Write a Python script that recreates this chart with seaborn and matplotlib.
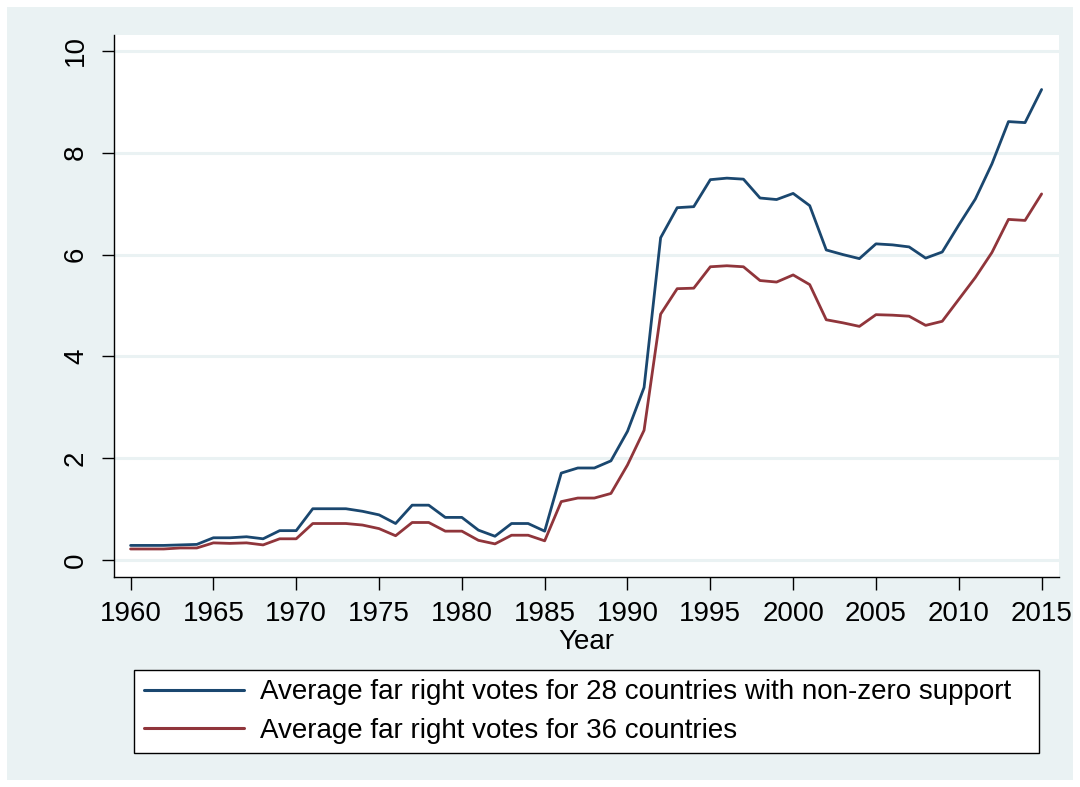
import numpy as np
import pandas as pd
import matplotlib.pyplot as plt
from matplotlib.patches import Rectangle
import seaborn as sns

years = list(range(1960, 2016))

nonzero_28 = [
    0.29, 0.29, 0.29, 0.30, 0.31, 0.44, 0.44, 0.46, 0.42, 0.58,
    0.58, 1.01, 1.01, 1.01, 0.96, 0.89, 0.72, 1.08, 1.08, 0.84,
    0.84, 0.59, 0.47, 0.72, 0.72, 0.57, 1.71, 1.81, 1.81, 1.95,
    2.53, 3.39, 6.33, 6.92, 6.94, 7.47, 7.50, 7.48, 7.11, 7.08,
    7.20, 6.96, 6.09, 6.00, 5.92, 6.21, 6.19, 6.15, 5.93, 6.05,
    6.58, 7.09, 7.78, 8.61, 8.59, 9.24,
]
all_36 = [
    0.22, 0.22, 0.22, 0.24, 0.24, 0.34, 0.33, 0.34, 0.30, 0.42,
    0.42, 0.72, 0.72, 0.72, 0.69, 0.62, 0.48, 0.74, 0.74, 0.57,
    0.57, 0.39, 0.32, 0.49, 0.49, 0.38, 1.15, 1.22, 1.22, 1.31,
    1.87, 2.55, 4.83, 5.33, 5.34, 5.76, 5.78, 5.76, 5.49, 5.46,
    5.60, 5.41, 4.72, 4.66, 4.59, 4.82, 4.81, 4.79, 4.61, 4.69,
    5.12, 5.55, 6.04, 6.69, 6.67, 7.19,
]

label_28 = 'Average far right votes for 28 countries with non-zero support'
label_36 = 'Average far right votes for 36 countries'

df = pd.DataFrame({
    'Year': years * 2,
    'votes': nonzero_28 + all_36,
    'serie': [label_28] * len(years) + [label_36] * len(years),
})

sns.set_style('white')
plt.rcParams['font.family'] = ['Liberation Sans', 'DejaVu Sans']
plt.rcParams['text.color'] = 'black'
plt.rcParams['axes.labelcolor'] = 'black'
plt.rcParams['xtick.color'] = 'black'
plt.rcParams['ytick.color'] = 'black'

bg = '#EAF2F3'
W, H = 1080, 787
fig = plt.figure(figsize=(W / 100, H / 100), dpi=100, facecolor='white')
fig.patches.append(Rectangle((7 / W, 1 - 780 / H), 1066 / W, 773 / H,
                             transform=fig.transFigure, facecolor=bg,
                             edgecolor='none', zorder=-10))

ax = fig.add_axes([114 / W, 1 - 577 / H, (1059 - 114) / W, (577 - 35) / H])
ax.set_facecolor('white')

sns.lineplot(
    data=df, x='Year', y='votes', hue='serie',
    palette={label_28: '#1a476f', label_36: '#90353b'},
    linewidth=2.0, ax=ax, legend=False,
)

ax.set_xlim(1959.0, 2016.05)
ax.set_ylim(-0.33, 10.31)
ax.set_xticks(range(1960, 2016, 5))
ax.set_yticks(range(0, 11, 2))
ax.grid(True, axis='y', color=bg, linewidth=2.2)
ax.set_axisbelow(True)

for s in ('top', 'right'):
    ax.spines[s].set_visible(False)
for s in ('left', 'bottom'):
    ax.spines[s].set_color('black')
    ax.spines[s].set_linewidth(1.0)

ax.tick_params(axis='x', direction='out', length=9, width=1,
               labelsize=20, pad=8, bottom=True)
ax.tick_params(axis='y', direction='out', length=9, width=1,
               labelsize=20, pad=9, left=True)
for t in ax.get_yticklabels():
    t.set_rotation(90)
    t.set_va('center')

ax.set_xlabel('Year', fontsize=20, labelpad=2)
ax.set_ylabel('')

handles = ax.get_lines()[:2]
leg = fig.legend(
    handles, [label_28, label_36],
    loc='center', bbox_to_anchor=(134 / W, 1 - 756 / H, 905 / W, 89 / H),
    mode='expand', borderaxespad=0, fontsize=20, frameon=True,
    fancybox=False, framealpha=1, handlelength=3.6, handletextpad=0.6,
    labelspacing=0.45, borderpad=0.35,
)
leg.get_frame().set_edgecolor('black')
leg.get_frame().set_linewidth(1.0)
leg.get_frame().set_facecolor('white')
for line in leg.get_lines():
    line.set_linewidth(2.2)

fig.savefig('out.png', dpi=100, facecolor='white')
